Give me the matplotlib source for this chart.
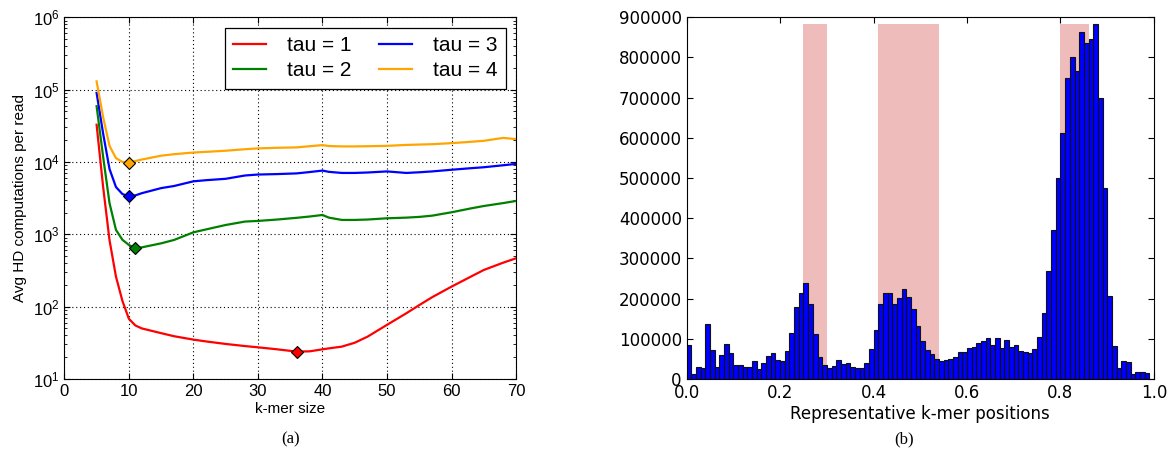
import numpy as np
import matplotlib
matplotlib.use("Agg")
import matplotlib.pyplot as plt
from matplotlib.ticker import LogLocator, FixedLocator, NullFormatter

# ---------------- data: panel (a) ----------------
kmer = [5, 6, 7, 8, 9, 10, 11, 12, 15, 17, 20, 22, 25, 28, 30, 33, 36, 38, 40, 41,
        43, 45, 47, 50, 53, 55, 57, 60, 63, 65, 68, 70]
tau1 = [32700, 4600, 830, 260, 120, 68, 55, 50, 43, 39, 35, 33, 30.5, 28.5, 27.4, 25.7,
        23.9, 24.1, 25.7, 26.5, 28, 31.7, 38.5, 56, 81, 105, 135, 189, 260, 321, 405, 466]
tau2 = [59000, 12000, 2700, 1150, 840, 713, 640, 660, 750, 835, 1065, 1170, 1345, 1500,
        1530, 1600, 1690, 1760, 1850, 1700, 1580, 1580, 1600, 1665, 1700, 1740, 1810,
        2015, 2280, 2460, 2700, 2890]
tau3 = [90000, 25000, 8000, 4500, 3600, 3350, 3450, 3700, 4350, 4650, 5400, 5600, 5850,
        6500, 6700, 6800, 6950, 7250, 7600, 7300, 7050, 7050, 7150, 7400, 7050, 7200,
        7400, 7800, 8200, 8450, 9000, 9400]
tau4 = [130000, 42000, 16700, 11300, 10000, 9800, 10300, 10800, 12200, 12800, 13500,
        13800, 14300, 15000, 15400, 15700, 15900, 16500, 17100, 16600, 16400, 16400,
        16500, 16700, 17200, 17400, 17600, 18200, 19000, 19600, 21500, 20700]
series_labels = ["tau = 1", "tau = 2", "tau = 3", "tau = 4"]
series_colors = ["#ff0000", "#008000", "#0000ff", "#ffa500"]

# ---------------- data: panel (b) ----------------
bin_left = [i / 100 for i in range(99)]
counts = [84500, 12400, 29000, 26500, 136000, 72000, 30700, 59700, 86000, 65500,
          34800, 34800, 30700, 30700, 44700, 25700, 39800, 57000, 65500, 47000,
          44700, 68800, 115000, 178000, 215000, 240000, 186000, 111000, 54700, 34000,
          26500, 33000, 46000, 36500, 40600, 29800, 27300, 28000, 41000, 73800,
          122000, 186000, 215000, 213000, 186000, 202000, 225000, 205000, 173000, 132000,
          94500, 72000, 61000, 49000, 45600, 46000, 50500, 55500, 66300, 68000,
          77000, 80400, 88700, 94500, 102000, 84500, 101000, 77000, 96000, 80400,
          83700, 70400, 68000, 65500, 75400, 103600, 163000, 268500, 370000, 501000,
          613000, 749000, 801000, 767000, 863000, 837000, 846000, 884000, 698000, 474000,
          205500, 82000, 28000, 44700, 43000, 12400, 17400, 16600, 14000]
regions = [(0.25, 0.30), (0.41, 0.54), (0.80, 0.86)]

# ---------------- figure ----------------
fig = plt.figure(figsize=(11.72, 4.62), dpi=100)
fig.patch.set_facecolor("white")

sans_a = ["Liberation Sans", "DejaVu Sans"]

# ----- panel (a) -----
ax1 = fig.add_axes([0.0549, 0.1797, 0.3854, 0.7829])
for vals, lab, col in zip([tau1, tau2, tau3, tau4], series_labels, series_colors):
    ax1.plot(kmer, vals, color=col, lw=1.6, label=lab, zorder=3)
    i = int(np.argmin(vals))
    ax1.plot([kmer[i]], [vals[i]], marker="D", ms=6.5, color=col,
             markeredgecolor="black", markeredgewidth=0.8, zorder=4, linestyle="none")
ax1.set_yscale("log")
ax1.set_xlim(0, 70)
ax1.set_ylim(10, 1e6)
ax1.xaxis.set_major_locator(FixedLocator(range(0, 71, 10)))
ax1.yaxis.set_major_locator(LogLocator(base=10, numticks=10))
ax1.yaxis.set_minor_locator(LogLocator(base=10, subs=np.arange(2, 10), numticks=20))
ax1.yaxis.set_minor_formatter(NullFormatter())
ax1.grid(True, which="major", color="black", linestyle=(0, (1, 2.5)), linewidth=0.8)
ax1.tick_params(which="both", direction="in", top=True, right=True)
ax1.tick_params(which="major", length=4, labelsize=12)
ax1.tick_params(which="minor", length=2)
for lbl in ax1.get_xticklabels() + ax1.get_yticklabels():
    lbl.set_family(sans_a)
ax1.set_xlabel("k-mer size", fontsize=11, family=sans_a, labelpad=2)
ax1.set_ylabel("Avg HD computations per read", fontsize=11, family=sans_a, labelpad=4)
leg = ax1.legend(loc="upper right", ncol=2, prop={"family": sans_a, "size": 15},
                 fancybox=False, framealpha=1, edgecolor="black", handlelength=1.6,
                 handletextpad=1.0, columnspacing=1.3, labelspacing=0.3,
                 borderaxespad=0.5)
leg.get_frame().set_linewidth(0.9)

# ----- panel (b) -----
ax2 = fig.add_axes([0.5859, 0.1797, 0.3987, 0.7829])
top = max(counts)
for a, b in regions:
    ax2.bar([a], [top], width=b - a, align="edge", color="#efbcbc", linewidth=0, zorder=1)
ax2.bar(bin_left, counts, width=0.01, align="edge", color="#0000ff",
        edgecolor="#111111", linewidth=0.8, zorder=2)
ax2.set_xlim(0, 1.0)
ax2.set_ylim(0, 900000)
ax2.xaxis.set_major_locator(FixedLocator([0.0, 0.2, 0.4, 0.6, 0.8, 1.0]))
ax2.yaxis.set_major_locator(FixedLocator(range(0, 900001, 100000)))
ax2.set_xticklabels(["0.0", "0.2", "0.4", "0.6", "0.8", "1.0"])
ax2.set_yticklabels([str(v) for v in range(0, 900001, 100000)])
ax2.tick_params(which="both", direction="in", top=True, right=True, length=4, labelsize=12)
ax2.set_xlabel("Representative k-mer positions", fontsize=12, labelpad=2)

# captions
fig.text(0.2475, 0.048, "(a)", ha="center", va="center", fontsize=12, family="Liberation Serif")
fig.text(0.7713, 0.048, "(b)", ha="center", va="center", fontsize=12, family="Liberation Serif")

fig.savefig("out.png", dpi=100, facecolor="white")
